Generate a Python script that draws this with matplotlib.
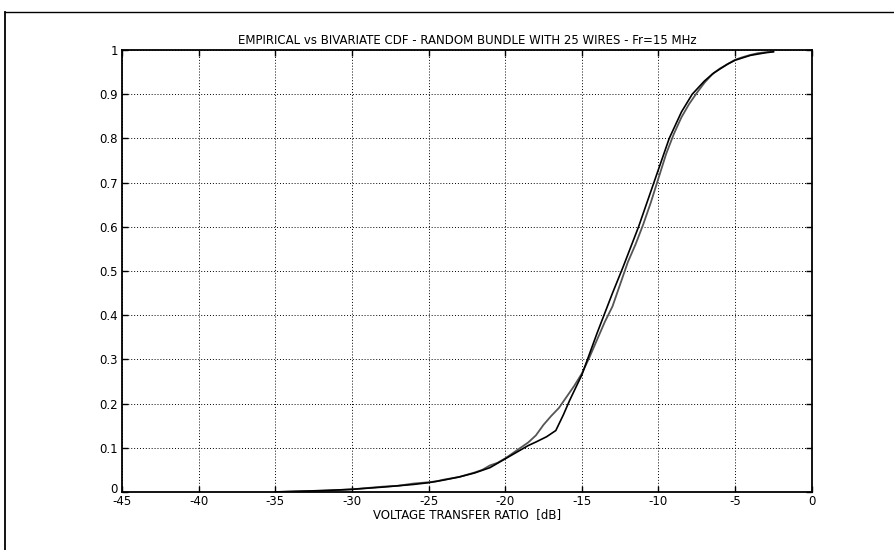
import matplotlib
matplotlib.use("Agg")
import matplotlib.pyplot as plt
import matplotlib.transforms as mtransforms
from matplotlib.lines import Line2D

plt.rcParams["font.family"] = ["DejaVu Sans"]

# bivariate CDF (smooth)
biv_x = [-35, -32, -30, -28, -26, -25, -24, -23, -22, -21, -20, -19, -18.5, -18,
         -17.3, -16.7, -16.2, -15.8, -15.4, -15, -14, -13, -12.3, -11.3, -10.3, -9.3,
         -8.5, -7.8, -7, -6.4, -5.5, -5, -4, -3, -2.5]
biv_y = [0.0, 0.003, 0.006, 0.011, 0.017, 0.021, 0.027, 0.034, 0.043, 0.055, 0.075,
         0.095, 0.105, 0.113, 0.125, 0.139, 0.175, 0.207, 0.236, 0.265, 0.36, 0.45,
         0.51, 0.6, 0.7, 0.8, 0.86, 0.9, 0.93, 0.948, 0.968, 0.977, 0.988, 0.994, 0.996]

# empirical CDF (jagged)
emp_x = [-35, -33, -31, -30, -29, -28, -27, -26, -25, -24.5, -24, -23, -22, -21.5,
         -21, -20.5, -20, -19.5, -19, -18.5, -18, -17.5, -17, -16.5, -16, -15.5, -15,
         -14.5, -14, -13.5, -13, -12.5, -12, -11.5, -11, -10.5, -10, -9.5, -9, -8.5,
         -8, -7.5, -7, -6.5, -6, -5.5, -5, -4.5, -4, -3.5, -3, -2.5]
emp_y = [0.0, 0.002, 0.004, 0.006, 0.009, 0.012, 0.014, 0.019, 0.022, 0.024, 0.028,
         0.034, 0.044, 0.05, 0.06, 0.066, 0.076, 0.088, 0.1, 0.112, 0.128, 0.152,
         0.172, 0.19, 0.215, 0.24, 0.268, 0.305, 0.345, 0.385, 0.42, 0.47, 0.52,
         0.56, 0.605, 0.655, 0.71, 0.765, 0.81, 0.848, 0.878, 0.903, 0.926, 0.945,
         0.958, 0.968, 0.978, 0.984, 0.989, 0.993, 0.995, 0.997]

x_ticks = [-45, -40, -35, -30, -25, -20, -15, -10, -5, 0]
y_ticks = [0, 0.1, 0.2, 0.3, 0.4, 0.5, 0.6, 0.7, 0.8, 0.9, 1]
y_labels = ["0", "0.1", "0.2", "0.3", "0.4", "0.5", "0.6", "0.7", "0.8", "0.9", "1"]


def main():
    fig = plt.figure(figsize=(8.94, 5.5), dpi=100)
    ax = fig.add_axes([0.1365, 0.1055, 0.7715, 0.8035])

    ax.plot(emp_x, emp_y, color="#555555", linewidth=1.3)
    ax.plot(biv_x, biv_y, color="black", linewidth=1.2)

    ax.set_xlim(-45, 0)
    ax.set_ylim(0, 1)
    ax.set_xticks(x_ticks)
    ax.set_xticklabels([str(t) for t in x_ticks])
    ax.set_yticks(y_ticks)
    ax.set_yticklabels(y_labels)
    ax.tick_params(direction="in", length=4, width=1, labelsize=8.5,
                   top=True, right=True)
    ax.tick_params(axis="x", pad=2)
    ax.tick_params(axis="y", pad=3)
    ax.grid(True, color="black", linestyle=(0, (1, 2)), linewidth=0.7)
    for s in ax.spines.values():
        s.set_linewidth(1.3)

    # lift the "0" on the y axis a little so it sits above "-45"
    lab0 = ax.get_yticklabels()[0]
    lab0.set_transform(lab0.get_transform() +
                       mtransforms.ScaledTranslation(0, 4 / 100, fig.dpi_scale_trans))

    ax.set_title("EMPIRICAL vs BIVARIATE CDF - RANDOM BUNDLE WITH 25 WIRES - Fr=15 MHz",
                 fontsize=8.5, pad=4)
    ax.set_xlabel("VOLTAGE TRANSFER RATIO  [dB]", fontsize=8.5, labelpad=0)

    # scanned page frame
    fig.add_artist(Line2D([5 / 894, 5 / 894], [0, 1 - 12 / 550],
                          color="black", linewidth=1.3, transform=fig.transFigure))
    fig.add_artist(Line2D([5 / 894, 1], [1 - 12 / 550, 1 - 12 / 550],
                          color="black", linewidth=1.0, transform=fig.transFigure))

    fig.savefig("out.png", dpi=100)


if __name__ == "__main__":
    main()
